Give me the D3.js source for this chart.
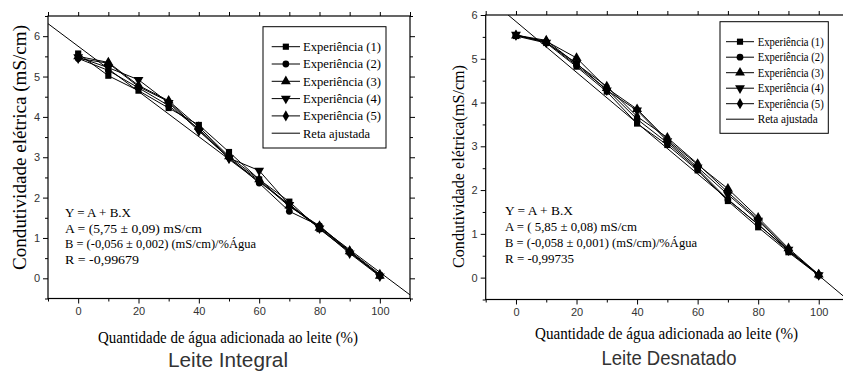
<!DOCTYPE html>
<html><head><meta charset="utf-8">
<script src="https://cdn.jsdelivr.net/npm/d3@7"></script>
<style>body{margin:0;background:#fff} svg{display:block}</style>
</head><body>
<svg id="c" width="843" height="374"></svg>
<script>
// ---------- DATA ----------
const waterPct = [0,10,20,30,40,50,60,70,80,90,100];

const integralExp1 = [5.57,5.02,4.65,4.22,3.80,3.13,2.45,1.90,1.22,0.65,0.07];
const integralExp2 = [5.45,5.15,4.72,4.28,3.70,3.00,2.36,1.66,1.30,0.64,0.08];
const integralExp3 = [5.50,5.35,4.78,4.40,3.75,3.02,2.45,1.80,1.25,0.67,0.06];
const integralExp4 = [5.48,5.22,4.92,4.35,3.65,2.98,2.67,1.82,1.24,0.62,0.05];
const integralExp5 = [5.45,5.33,4.75,4.38,3.68,2.97,2.42,1.78,1.30,0.68,0.10];

const desnatadoExp1 = [5.52,5.36,4.82,4.25,3.52,3.03,2.45,1.75,1.15,0.58,0.05];
const desnatadoExp2 = [5.54,5.38,4.85,4.30,3.62,3.08,2.48,1.78,1.22,0.60,0.06];
const desnatadoExp3 = [5.53,5.40,5.02,4.33,3.85,3.15,2.58,2.03,1.37,0.67,0.07];
const desnatadoExp4 = [5.55,5.37,4.90,4.28,3.82,3.12,2.52,1.90,1.30,0.64,0.06];
const desnatadoExp5 = [5.54,5.42,4.88,4.37,3.68,3.20,2.60,1.95,1.33,0.62,0.07];

const fitIntegral = [5.75, -0.056];   // A, B
const fitDesnatado = [5.85, -0.058];

const legendLabels = ["Experiência (1)","Experiência (2)","Experiência (3)","Experiência (4)","Experiência (5)","Reta ajustada"];
const xTickValues = [0,20,40,60,80,100];
const yTickValues = [0,1,2,3,4,5,6];
const annotIntegral = ["Y = A + B.X","A = (5,75 ± 0,09) mS/cm","B = (-0,056 ± 0,002) (mS/cm)/%Água","R = -0,99679"];
const annotDesnatado = ["Y = A + B.X","A = ( 5,85 ± 0,08) mS/cm","B = (-0,058 ± 0,001) (mS/cm)/%Água","R = -0,99735"];
const panelTitles = ["Leite Integral","Leite Desnatado"];
const yAxisTitles = ["Condutividade elétrica (mS/cm)","Condutividade elétrica(mS/cm)"];
const xAxisTitle = "Quantidade de água adicionada ao leite (%)";

// ---------- DRAW ----------
const svg = d3.select("#c");
const SERIF = "'Liberation Serif','Times New Roman',serif";
const SANS = "'Liberation Sans',Arial,sans-serif";

const symbols = [
  {t:d3.symbolSquare, s:38, r:0},
  {t:d3.symbolCircle, s:36, r:0},
  {t:d3.symbolTriangle, s:42, r:0},
  {t:d3.symbolTriangle, s:42, r:180},
  {t:d3.symbolDiamond, s:36, r:0}
];

function panel(cfg){
  const g = svg.append("g");
  const x = d3.scaleLinear().domain([-10,110]).range([cfg.left, cfg.right]);
  const y = d3.scaleLinear().domain(cfg.yDomain).range([cfg.bottom, cfg.top]);
  const clipId = "clip" + cfg.id;
  svg.append("clipPath").attr("id", clipId).append("rect")
    .attr("x", cfg.left).attr("y", cfg.top)
    .attr("width", cfg.right - cfg.left).attr("height", cfg.bottom - cfg.top);

  const minorX = d3.range(-10, 111, 10).filter(v => v % 20 !== 0);
  const allX = d3.range(-10, 111, 10);
  const minorY = d3.range(cfg.yDomain[0], cfg.yDomain[1] + 0.01, 0.5).filter(v => Math.abs(v - Math.round(v)) > 0.1);

  function styleAxis(sel){
    sel.select(".domain").remove();
    sel.selectAll("line").attr("stroke","#000").attr("stroke-width",1);
    sel.selectAll("text").attr("font-family",SANS).attr("font-size",11).attr("fill","#333");
  }
  const fmt = d3.format("d");
  // bottom
  g.append("g").attr("transform",`translate(0,${cfg.bottom})`)
    .call(d3.axisBottom(x).tickValues(xTickValues).tickFormat(fmt).tickSize(5).tickPadding(4).tickSizeOuter(0)).call(styleAxis);
  g.append("g").attr("transform",`translate(0,${cfg.bottom})`)
    .call(d3.axisBottom(x).tickValues(minorX).tickSize(3).tickFormat("")).call(styleAxis);
  // top
  g.append("g").attr("transform",`translate(0,${cfg.top})`)
    .call(d3.axisTop(x).tickValues(allX).tickSize(4).tickFormat("")).call(styleAxis);
  // left
  g.append("g").attr("transform",`translate(${cfg.left},0)`)
    .call(d3.axisLeft(y).tickValues(yTickValues).tickFormat(fmt).tickSize(5).tickPadding(3)).call(styleAxis);
  g.append("g").attr("transform",`translate(${cfg.left},0)`)
    .call(d3.axisLeft(y).tickValues(minorY).tickSize(3).tickFormat("")).call(styleAxis);
  // right
  g.append("g").attr("transform",`translate(${cfg.right},0)`)
    .call(d3.axisRight(y).tickValues(yTickValues).tickSize(5).tickFormat("")).call(styleAxis);
  g.append("g").attr("transform",`translate(${cfg.right},0)`)
    .call(d3.axisRight(y).tickValues(minorY).tickSize(3).tickFormat("")).call(styleAxis);

  // frame
  g.append("rect").attr("x",cfg.left).attr("y",cfg.top)
    .attr("width",cfg.right-cfg.left).attr("height",cfg.bottom-cfg.top)
    .attr("fill","none").attr("stroke","#000").attr("stroke-width",1.2);

  // fit line
  const fx = [-10, 110];
  g.append("line").attr("clip-path",`url(#${clipId})`)
    .attr("x1",x(fx[0])).attr("y1",y(cfg.fit[0]+cfg.fit[1]*fx[0]))
    .attr("x2",x(fx[1])).attr("y2",y(cfg.fit[0]+cfg.fit[1]*fx[1]))
    .attr("stroke","#000").attr("stroke-width",1);

  // series
  const line = d3.line().x((d,i)=>x(waterPct[i])).y(d=>y(d));
  cfg.series.forEach((s,k)=>{
    g.append("path").attr("d",line(s)).attr("fill","none").attr("stroke","#000").attr("stroke-width",1);
  });
  cfg.series.forEach((s,k)=>{
    const sym = d3.symbol().type(symbols[k].t).size(symbols[k].s);
    g.selectAll(null).data(s).enter().append("path")
      .attr("d",sym)
      .attr("transform",(d,i)=>`translate(${x(waterPct[i])},${y(d)}) rotate(${symbols[k].r})`)
      .attr("fill","#000");
  });

  // legend
  const L = cfg.legend;
  g.append("rect").attr("x",L.x0).attr("y",L.y0).attr("width",L.x1-L.x0).attr("height",L.y1-L.y0)
    .attr("fill","#fff").attr("stroke","#000").attr("stroke-width",1);
  legendLabels.forEach((lab,k)=>{
    const yy = L.rowY + k*L.step;
    g.append("line").attr("x1",L.lx0).attr("x2",L.lx1).attr("y1",yy).attr("y2",yy)
      .attr("stroke","#000").attr("stroke-width",1);
    if (k < 5){
      const sym = d3.symbol().type(symbols[k].t).size(symbols[k].s);
      g.append("path").attr("d",sym)
        .attr("transform",`translate(${(L.lx0+L.lx1)/2},${yy}) rotate(${symbols[k].r})`).attr("fill","#000");
    }
    g.append("text").attr("x",L.tx).attr("y",yy + L.fs*0.33)
      .attr("font-family",SERIF).attr("font-size",L.fs).attr("fill","#000")
      .attr("textLength", k<5 ? L.wExp : L.wReta).attr("lengthAdjust","spacingAndGlyphs")
      .text(lab);
  });

  // annotation
  cfg.annot.forEach((t,k)=>{
    g.append("text").attr("x",cfg.annotX).attr("y",cfg.annotY + k*cfg.annotStep)
      .attr("font-family",SERIF).attr("font-size",13.5).attr("fill","#000")
      .attr("textLength",cfg.annotW[k]).attr("lengthAdjust","spacingAndGlyphs")
      .text(t);
  });

  // axis titles
  g.append("text").attr("transform",`translate(${cfg.yTitleX},${cfg.yTitleY}) rotate(-90)`)
    .attr("text-anchor","middle").attr("font-family",SERIF).attr("font-size",cfg.yTitleFs)
    .attr("textLength",cfg.yTitleW).attr("lengthAdjust","spacingAndGlyphs")
    .text(cfg.yTitle);
  g.append("text").attr("x",cfg.xTitleX).attr("y",cfg.xTitleY)
    .attr("text-anchor","middle").attr("font-family",SERIF).attr("font-size",17.5)
    .attr("textLength",cfg.xTitleW).attr("lengthAdjust","spacingAndGlyphs")
    .text(xAxisTitle);
  // panel title
  g.append("text").attr("x",cfg.titleX).attr("y",cfg.titleY)
    .attr("text-anchor","middle").attr("font-family",SANS).attr("font-size",20.5).attr("fill","#333")
    .attr("textLength",cfg.titleW).attr("lengthAdjust","spacingAndGlyphs")
    .text(cfg.title);
}

panel({
  id:1, left:48, right:410, top:16, bottom:298.5, yDomain:[-0.5,6.5],
  fit:fitIntegral,
  series:[integralExp1,integralExp2,integralExp3,integralExp4,integralExp5],
  legend:{x0:263,x1:386,y0:26.7,y1:148,rowY:46.7,step:17.3,lx0:271.7,lx1:300,tx:303,fs:13.5,wExp:78,wReta:67},
  annot:annotIntegral, annotX:65, annotY:216.7, annotStep:15.8, annotW:[66,137,191,74],
  yTitle:yAxisTitles[0], yTitleX:26, yTitleY:147.5, yTitleFs:19, yTitleW:245,
  xTitleX:228, xTitleY:342.5, xTitleW:260,
  title:panelTitles[0], titleX:228, titleY:366.7, titleW:120
});

panel({
  id:2, left:485.7, right:849, top:15, bottom:299.5, yDomain:[-0.5,6],
  fit:fitDesnatado,
  series:[desnatadoExp1,desnatadoExp2,desnatadoExp3,desnatadoExp4,desnatadoExp5],
  legend:{x0:720,x1:828.3,y0:21.7,y1:133.3,rowY:41.7,step:15.5,lx0:726,lx1:754,tx:757.7,fs:12,wExp:66,wReta:60},
  annot:annotDesnatado, annotX:505, annotY:215, annotStep:15.9, annotW:[68,132,192,69],
  yTitle:yAxisTitles[1], yTitleX:464, yTitleY:166.5, yTitleFs:17, yTitleW:203,
  xTitleX:666.5, xTitleY:339.3, xTitleW:263,
  title:panelTitles[1], titleX:669, titleY:365, titleW:135
});
</script>
</body></html>
